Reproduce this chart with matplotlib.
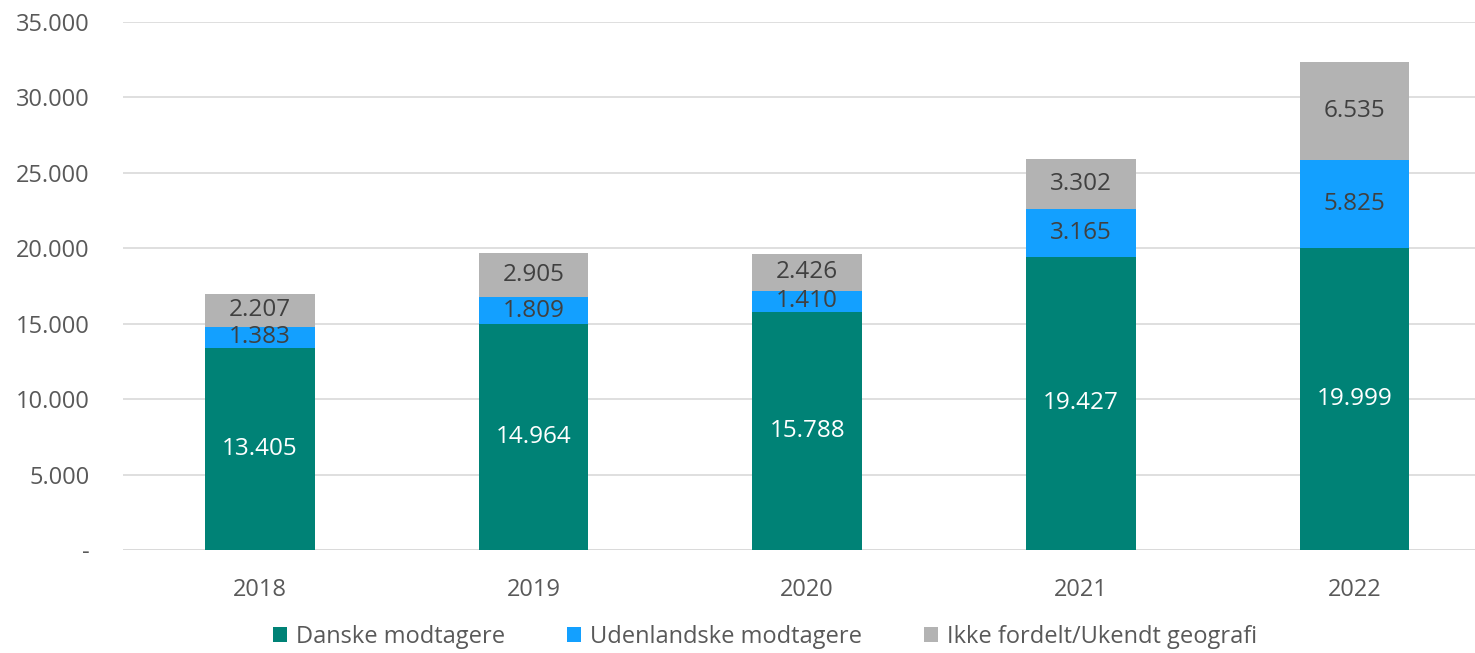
import matplotlib.pyplot as plt
import numpy as np
from matplotlib.ticker import FuncFormatter

# data
years = ['2018', '2019', '2020', '2021', '2022']
danske = [13405, 14964, 15788, 19427, 19999]
udenlandske = [1383, 1809, 1410, 3165, 5825]
ukendt = [2207, 2905, 2426, 3302, 6535]
labels = ['Danske modtagere', 'Udenlandske modtagere', 'Ikke fordelt/Ukendt geografi']
colors = ['#008276', '#13A0FF', '#B3B3B3']
text_colors = ['white', '#404040', '#404040']

fig = plt.figure(figsize=(14.75, 6.53), dpi=100)
ax = fig.add_axes([123 / 1475, 103 / 653, 1352 / 1475, 528 / 653])

x = np.arange(len(years))
bottom = np.zeros(len(years))
for vals, lab, col, tc in zip([danske, udenlandske, ukendt], labels, colors, text_colors):
    vals = np.array(vals)
    ax.bar(x, vals, 0.4, bottom=bottom, color=col, label=lab, zorder=2)
    for xi, b, v in zip(x, bottom, vals):
        ax.text(xi, b + v / 2, f'{v:,}'.replace(',', '.'), ha='center', va='center',
                color=tc, fontsize=17.5, family='Open Sans', zorder=3)
    bottom += vals

# akser
ax.set_xlim(-0.5, 4.44)
ax.set_ylim(0, 35000)
ax.set_yticks(range(0, 35001, 5000))
ax.yaxis.set_major_formatter(FuncFormatter(
    lambda v, p: '-' if v == 0 else f'{int(v):,}'.replace(',', '.')))
ax.set_xticks(x)
ax.set_xticklabels(years)
for s in ax.spines.values():
    s.set_visible(False)
ax.grid(axis='y', color='#D9D9D9', linewidth=1.2, zorder=0)
ax.axhline(0, color='#D9D9D9', linewidth=1.2, zorder=1)
ax.tick_params(axis='both', length=0, labelsize=17, labelcolor='#595959')
ax.tick_params(axis='y', pad=24)
ax.tick_params(axis='x', pad=20)
for t in ax.get_xticklabels() + ax.get_yticklabels():
    t.set_family('Open Sans')

fig.legend(loc='center', bbox_to_anchor=(765 / 1475, 1 - 637 / 653), ncol=3,
           frameon=False, prop={'family': 'Open Sans', 'size': 17},
           handlelength=0.6, handleheight=0.6, handletextpad=0.4, columnspacing=2.6,
           labelcolor='#595959')

fig.savefig('out.png', dpi=100)
